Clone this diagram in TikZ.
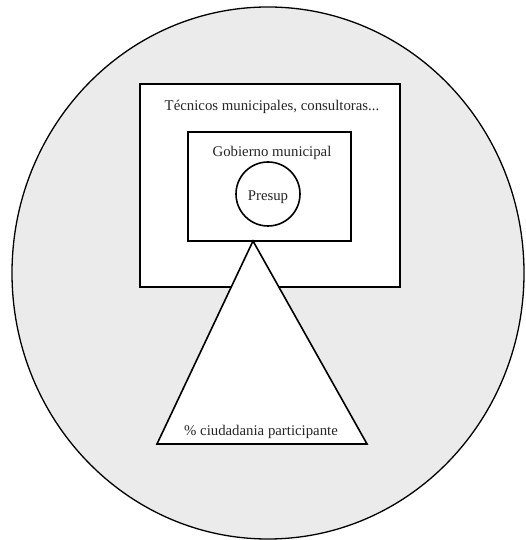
\documentclass[tikz,border=0pt]{standalone}
\usepackage{fontspec}
\setmainfont{Liberation Serif}
\usetikzlibrary{shapes.geometric}
\definecolor{fondoGris}{HTML}{EBEBEB}
\newcommand{\textoTam}{\fontsize{14.8}{17}\selectfont}
\newcommand{\grosorLinea}{1.6pt}

\begin{document}
\begin{tikzpicture}[x=1pt,y=1pt]
\tikzstyle{caja}=[rectangle,draw,fill=white,line width=\grosorLinea,inner sep=0pt]
\tikzstyle{etiqueta}=[inner sep=0pt,font=\textoTam,text=black!85]
\useasboundingbox (0,0) rectangle (525,540);
\node[ellipse,draw,fill=fondoGris,line width=1.3pt,minimum width=512pt,minimum height=532pt,inner sep=0pt] (ciudad) at (268,267) {};
\node[caja,minimum width=260pt,minimum height=203pt] (tecnicos) at (270,354.5) {};
\node[caja,minimum width=163pt,minimum height=109pt] (gobierno) at (269.5,353.5) {};
\node[circle,draw,fill=white,line width=\grosorLinea,minimum size=64pt,inner sep=0pt] (presup) at (268,346) {};
\coordinate (vertice) at (253,299);
\coordinate (baseIzq) at (157,96);
\coordinate (baseDer) at (367,96);
\draw[fill=white,line width=\grosorLinea,line join=miter] (vertice) -- (baseIzq) -- (baseDer) -- cycle;
\node[etiqueta] (tTecnicos) at (272,433) {Técnicos municipales, consultoras...};
\node[etiqueta] (tGobierno) at (272,387) {Gobierno municipal};
\node[etiqueta] (tPresup) at (268,343) {Presup};
\node[etiqueta] (tCiudadania) at (261,108) {\% ciudadania participante};
\end{tikzpicture}
\end{document}
